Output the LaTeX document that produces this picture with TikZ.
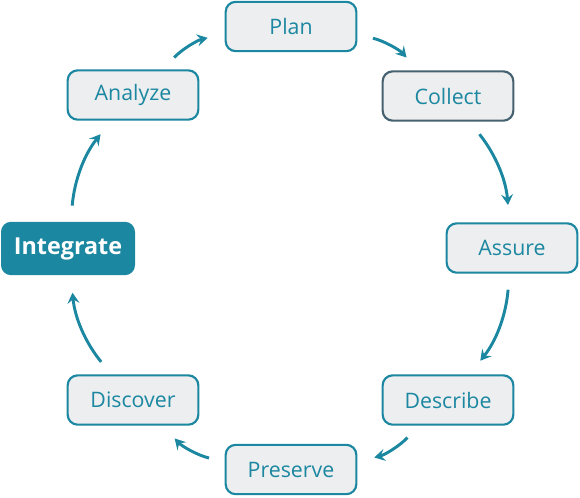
\documentclass[tikz,border=0pt]{standalone}
\usepackage{fontspec}
\setmainfont{Open Sans}
\usetikzlibrary{arrows.meta}
\definecolor{teal}{HTML}{1B87A0}
\definecolor{boxfill}{HTML}{EDEEF0}
\definecolor{slate}{HTML}{46616F}
\begin{document}
\begin{tikzpicture}[x=0.75pt, y=-0.75pt,
    step box/.style={draw=teal, line width=1.6pt, fill=boxfill, rounded corners=7.5pt,
        minimum width=98pt, minimum height=37pt, text=teal, font=\fontsize{16}{19}\selectfont},
    main box/.style={fill=teal, rounded corners=7.5pt, minimum width=100.5pt,
        minimum height=40pt, text=white, font=\fontsize{17.5}{21}\selectfont\bfseries},
    cycle arrow/.style={draw=teal, line width=2.2pt, -{Stealth[length=8pt, width=9pt, inset=3pt]},
        shorten <=12pt, shorten >=13pt, bend left=17},]
    \useasboundingbox (0,0) rectangle (580,497);

    \node[step box] (plan) at (291,26.5) {Plan};
    \node[step box, draw=slate] (collect) at (448,96) {Collect};
    \node[step box] (assure) at (512,248) {Assure};
    \node[step box] (describe) at (448,400) {Describe};
    \node[step box] (preserve) at (291,469.5) {Preserve};
    \node[step box] (discover) at (133,400) {Discover};
    \node[main box] (integrate) at (68,248.5) {Integrate};
    \node[step box] (analyze) at (133,95) {Analyze};

    \draw[style=cycle arrow] (analyze) to (plan);
    \draw[style=cycle arrow] (plan) to (collect);
    \draw[style=cycle arrow] (collect) to (assure);
    \draw[style=cycle arrow] (assure) to (describe);
    \draw[style=cycle arrow] (describe) to (preserve);
    \draw[style=cycle arrow] (preserve) to (discover);
    \draw[style=cycle arrow] (discover) to (integrate);
    \draw[style=cycle arrow] (integrate) to (analyze);

\end{tikzpicture}
\end{document}
